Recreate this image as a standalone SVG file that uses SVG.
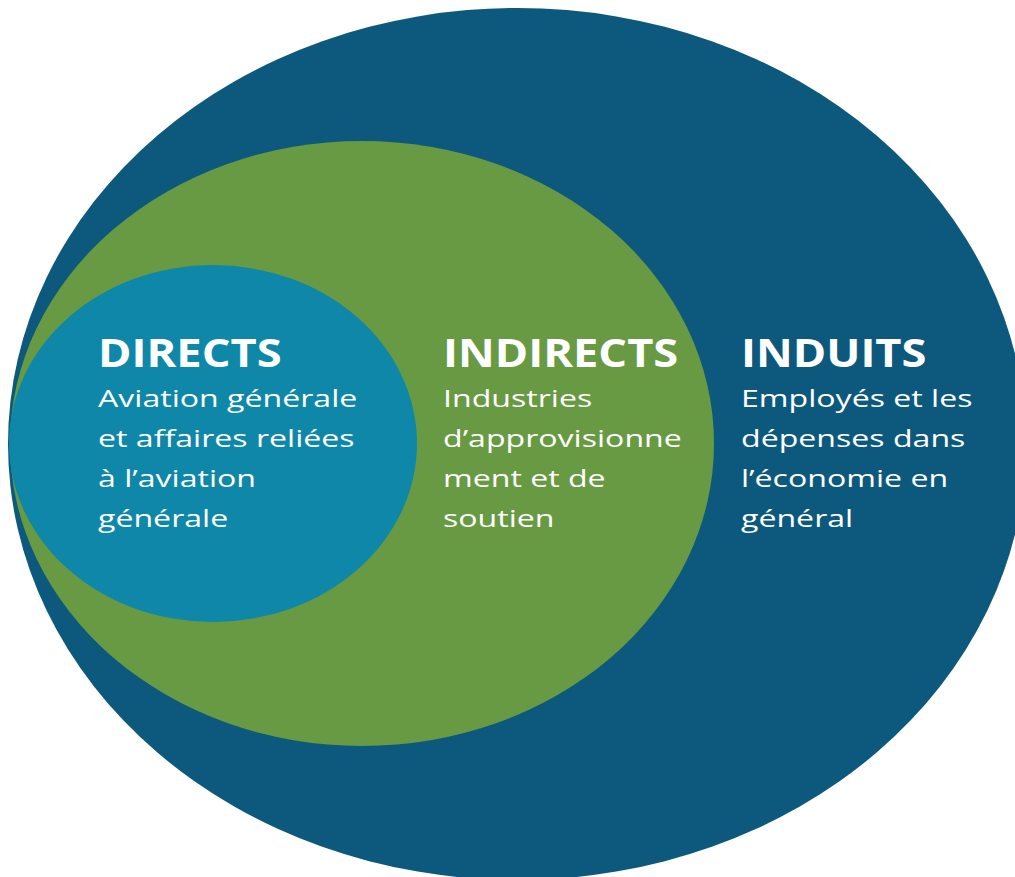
<svg xmlns="http://www.w3.org/2000/svg" width="1015" height="877" viewBox="0 0 1015 877">
<style>
.h{font-family:"Open Sans","DejaVu Sans",sans-serif;font-weight:700;font-size:39px;fill:#fff}
.b{font-family:"Open Sans","DejaVu Sans",sans-serif;font-weight:400;font-size:24.5px;fill:#fff}
</style>
<rect width="1015" height="877" fill="#fff"/>
<g id="induits">
<ellipse cx="517" cy="444" rx="509" ry="436" fill="#0c597d"/>
<text class="h" transform="translate(741,367) scale(1.16,1)">INDUITS</text>
<g transform="translate(741,0) scale(1.31,1)">
<text class="b" x="0" y="407">Employés et les</text>
<text class="b" x="0" y="447">dépenses dans</text>
<text class="b" x="0" y="487">l’économie en</text>
<text class="b" x="0" y="527">général</text>
</g>
</g>
<g id="indirects">
<ellipse cx="362" cy="443.5" rx="352" ry="302.5" fill="#679a42"/>
<text class="h" transform="translate(443,367) scale(1.16,1)">INDIRECTS</text>
<g transform="translate(443,0) scale(1.31,1)">
<text class="b" x="0" y="407">Industries</text>
<text class="b" x="0" y="447">d’approvisionne</text>
<text class="b" x="0" y="487">ment et de</text>
<text class="b" x="0" y="527">soutien</text>
</g>
</g>
<g id="directs">
<ellipse cx="213" cy="443.5" rx="204" ry="178.5" fill="#0e87a8"/>
<text class="h" transform="translate(98,367) scale(1.16,1)">DIRECTS</text>
<g transform="translate(98,0) scale(1.31,1)">
<text class="b" x="0" y="407">Aviation générale</text>
<text class="b" x="0" y="447">et affaires reliées</text>
<text class="b" x="0" y="487">à l’aviation</text>
<text class="b" x="0" y="527">générale</text>
</g>
</g>
</svg>
